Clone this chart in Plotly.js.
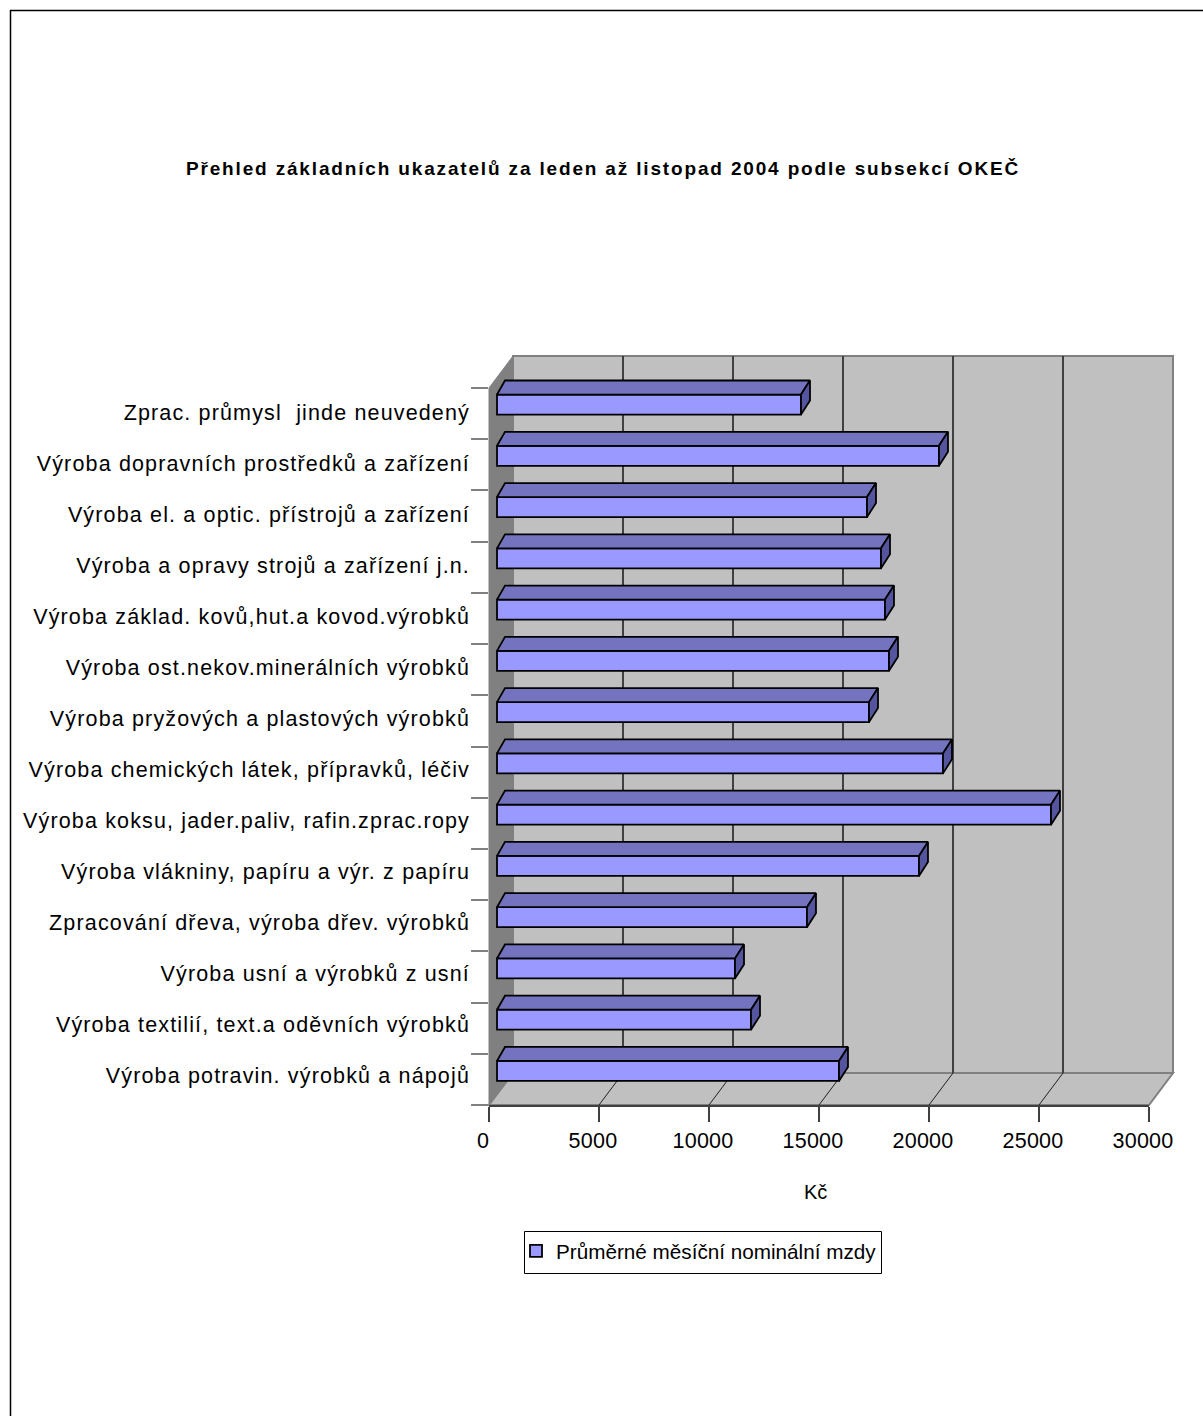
<!DOCTYPE html>
<html><head><meta charset="utf-8">
<script src="https://cdn.plot.ly/plotly-3.0.1.min.js"></script>
<style>html,body{margin:0;padding:0;background:#fff}
.y5tick text{letter-spacing:1.15px}
.x2tick text{letter-spacing:.25px}
.gtitle{letter-spacing:1.84px}
</style>
</head><body><div id="chart" style="width:1203px;height:1416px"></div>
<script>
const categories = [
  'Výroba potravin. výrobků a nápojů','Výroba textilií, text.a oděvních výrobků','Výroba usní a výrobků z usní',
  'Zpracování dřeva, výroba dřev. výrobků','Výroba vlákniny, papíru a výr. z papíru','Výroba koksu, jader.paliv, rafin.zprac.ropy',
  'Výroba chemických látek, přípravků, léčiv','Výroba pryžových a plastových výrobků','Výroba ost.nekov.minerálních výrobků',
  'Výroba základ. kovů,hut.a kovod.výrobků','Výroba a opravy strojů a zařízení j.n.','Výroba el. a optic. přístrojů a zařízení',
  'Výroba dopravních prostředků a zařízení','Zprac. průmysl  jinde neuvedený'];
const wages = [15545,11545,10818,14090,19181,25181,20272,16909,17818,17636,17454,16818,20090,13818];
const xTicks = [0,5000,10000,15000,20000,25000,30000];
const seriesName = 'Průměrné měsíční nominální mzdy';
const titleText = 'Přehled základních ukazatelů za leden až listopad 2004 podle subsekcí OKEČ';

const W=1203,H=1416, FONT='"Liberation Sans", Arial, sans-serif';
const px=v=>v/W, py=v=>1-v/H;
const UNIT=110/5000;                    // pixels per Kč
const barH=0.195, depthY=14/51.2, depthL=8/UNIT, depthR=9/UNIT;
const topFaces=[],sideFaces=[];
wages.forEach((v,i)=>{
  const t=i+barH,b=i-barH,u=t+depthY;
  topFaces.push({x:[0,v,v+depthR,depthL,0,null],y:[t,t,u,u,t,null]});
  sideFaces.push({x:[v,v+depthR,v+depthR,v,v,null],y:[t,u,b+depthY,b,t,null]});
});
const flat=(a,k)=>a.flatMap(o=>o[k]);
const faces=(a,c)=>({type:'scatter',mode:'lines',x:flat(a,'x'),y:flat(a,'y'),xaxis:'x3',yaxis:'y4',fill:'toself',fillcolor:c,
  line:{color:'#000',width:1.8},showlegend:false,hoverinfo:'skip'});
const dummy=(xa,ya,y)=>({type:'scatter',mode:'lines',x:y.map(()=>null),y,xaxis:xa,yaxis:ya,showlegend:false,hoverinfo:'skip'});
const traces=[
  dummy('x','y',[null]),
  dummy('x2','y2',categories),
  dummy('x2','y5',categories),
  {type:'bar',orientation:'h',name:seriesName,x:wages,y:categories,xaxis:'x3',yaxis:'y3',width:barH*2,
   marker:{color:'#9999FF',line:{color:'#000',width:1.8}},showlegend:true},
  faces(topFaces,'#7373BF'),faces(sideFaces,'#55559F')
];
const poly=(pts,fill,line,w)=>({type:'path',xref:'paper',yref:'paper',layer:'below',
  path:'M'+pts.map(p=>px(p[0])+','+py(p[1])).join('L')+'Z',fillcolor:fill,line:{color:line,width:w}});
const seg=(x0,y0,x1,y1,c,w,layer)=>({type:'line',xref:'paper',yref:'paper',layer:layer||'below',x0:px(x0),y0:py(y0),x1:px(x1),y1:py(y1),line:{color:c,width:w}});
const shapes=[
  poly([[513,356],[1173,356],[1173,1073],[513,1073]],'#C0C0C0','#808080',2),
  poly([[489,1105],[513,1073],[1173,1073],[1149,1105]],'#C0C0C0','#808080',2),
  poly([[489,388],[513,356],[513,1073],[489,1105]],'#808080','#808080',1),
  ...xTicks.slice(1,-1).map(v=>seg(489+v*UNIT,1105,513+v*UNIT,1073,'#202020',1)),
  seg(10,10.5,W,10.5,'#000',1.5,'above'),
  seg(10.5,10,10.5,H,'#000',1.5,'above'),
  poly([[524.5,1231.5],[881.5,1231.5],[881.5,1273.5],[524.5,1273.5]],'#fff','#000',1)
];
const noAxis={showgrid:false,zeroline:false,showticklabels:false,ticks:'',showline:false};
const catAxis={type:'category',categoryorder:'array',categoryarray:categories,range:[-0.5,13.5]};
const layout={width:W,height:H,margin:{l:0,r:0,t:0,b:0,pad:0},paper_bgcolor:'#fff',plot_bgcolor:'rgba(0,0,0,0)',
  font:{family:FONT,color:'#000',size:20},
  barmode:'overlay',
  title:{text:'<b>'+titleText+'</b>',x:603/W,xanchor:'center',y:py(168),yanchor:'middle',font:{family:FONT,size:19,color:'#000'}},
  showlegend:true,
  legend:{x:px(524),xanchor:'left',y:py(1251),yanchor:'middle',bgcolor:'rgba(0,0,0,0)',borderwidth:0,font:{family:FONT,size:20.7,color:'#000'},
    itemwidth:30,tracegroupgap:0,indentation:-8},
  annotations:[{text:'Kč',xref:'paper',yref:'paper',x:px(815),y:py(1192),xanchor:'center',yanchor:'middle',showarrow:false,font:{family:FONT,size:20,color:'#000'}}],
  shapes,
  xaxis:{...noAxis,domain:[px(513),px(1173)],range:[0,30000],anchor:'y',tickmode:'array',tickvals:xTicks.slice(1,-1),showgrid:true,gridcolor:'#404040',gridwidth:1.5},
  yaxis:{...noAxis,domain:[py(1073),py(356)],range:[0,1],anchor:'x'},
  xaxis2:{domain:[px(489),px(1149)],range:[0,30000],anchor:'y2',tickmode:'array',tickvals:xTicks,ticktext:xTicks.map(String),ticks:'outside',ticklen:15,tickwidth:1.5,tickcolor:'#404040',
    showgrid:false,zeroline:false,showline:true,linecolor:'#404040',linewidth:2,tickfont:{family:FONT,size:21.5,color:'#000'},ticklabelshift:-6},
  yaxis2:{...catAxis,domain:[py(1105),py(388)],anchor:'x2',tickson:'boundaries',ticks:'outside',ticklen:17,tickwidth:1.5,tickcolor:'#808080',
    showgrid:false,zeroline:false,showline:false,showticklabels:false},
  xaxis3:{...noAxis,domain:[px(489),px(1149)],range:[-8/UNIT,30000-8/UNIT],anchor:'y3'},
  yaxis3:{...noAxis,...catAxis,domain:[py(1096.6),py(378.9)],anchor:'x3'},
  yaxis4:{...noAxis,domain:[py(1096.6),py(378.9)],range:[-0.5,13.5],anchor:'x3'},
  yaxis5:{...catAxis,domain:[py(1100.5),py(387.5)],anchor:'x2',ticks:'',showgrid:false,zeroline:false,showline:false,ticklabelstandoff:18,
    tickfont:{family:FONT,size:21.5,color:'#000'}}
};
Plotly.newPlot('chart',traces,layout,{displayModeBar:false,responsive:false});
</script></body></html>
